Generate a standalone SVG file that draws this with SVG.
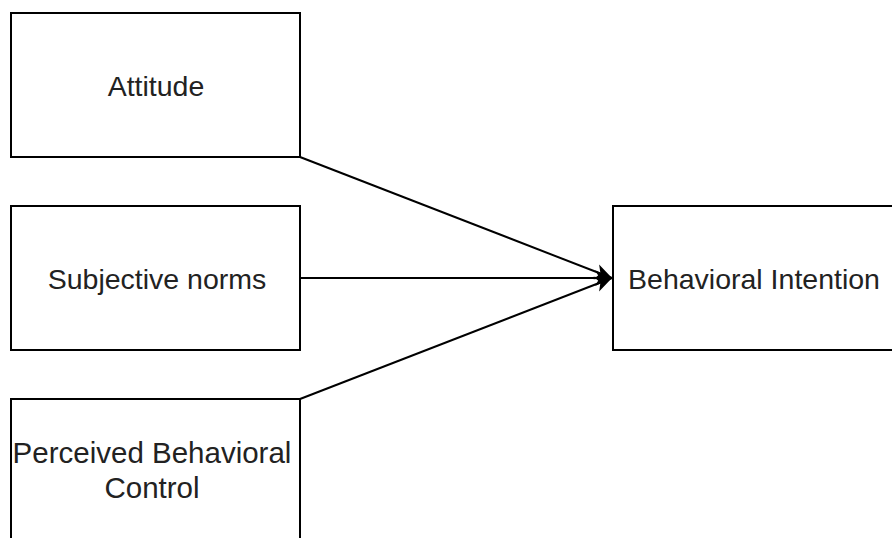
<svg xmlns="http://www.w3.org/2000/svg" width="892" height="538" viewBox="0 0 892 538">
<style>
.box{fill:#fff;stroke:#000;stroke-width:2}
.lbl{font-family:"Liberation Sans",Arial,sans-serif;font-size:28.5px;fill:#222;text-anchor:middle}
.edge{stroke:#000;stroke-width:2;fill:none}
</style>
<defs>
<marker id="arr" markerUnits="userSpaceOnUse" markerWidth="18" markerHeight="18" refX="15" refY="8" orient="auto" viewBox="0 0 16 16">
<path d="M0,1 L15,8 L0,15 L4,8 Z" fill="#000"/>
</marker>
</defs>
<rect width="892" height="538" fill="#fff"/>
<g id="connectors">
<path class="edge" d="M300,157 L612,278" marker-end="url(#arr)"/>
<path class="edge" d="M300,278 L612,278" marker-end="url(#arr)"/>
<path class="edge" d="M300,399 L612,278" marker-end="url(#arr)"/>
</g>
<g id="attitude">
<rect class="box" x="11" y="13" width="289" height="144"/>
<text class="lbl" x="156" y="96">Attitude</text>
</g>
<g id="subjective">
<rect class="box" x="11" y="206" width="289" height="144"/>
<text class="lbl" x="157" y="289">Subjective norms</text>
</g>
<g id="perceived">
<rect class="box" x="11" y="399" width="289" height="160"/>
<text class="lbl" x="152" y="463" style="font-size:29.5px">Perceived Behavioral</text>
<text class="lbl" x="152" y="498" style="font-size:29.5px">Control</text>
</g>
<g id="intention">
<rect class="box" x="613" y="206" width="289" height="144"/>
<text class="lbl" x="754" y="289">Behavioral Intention</text>
</g>
</svg>
